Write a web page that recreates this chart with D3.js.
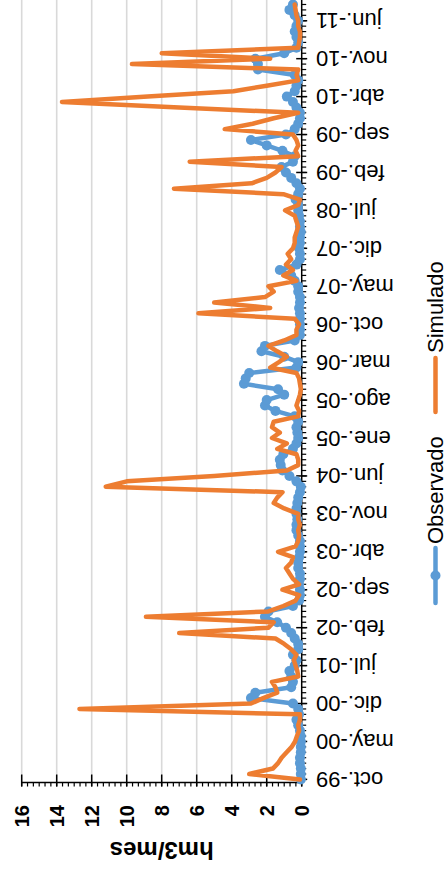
<!DOCTYPE html>
<html>
<head>
<meta charset="utf-8">
<script src="https://cdn.jsdelivr.net/npm/d3@7"></script>
<style>
  html, body { margin: 0; padding: 0; background: #fff; }
  svg { display: block; }
  text { font-family: "Liberation Sans", Arial, sans-serif; fill: #000; }
</style>
</head>
<body>
<div id="chart"></div>
<script>
// ---- data (monthly, oct-1999 .. sep-2011) ----
const months = d3.timeMonth.range(new Date(1999, 9, 1), new Date(2011, 9, 1));

const observado = [
  0.05, 0.05, 0.05, 0.1, 0.1, 0.05, 0.05, 0.05, 0.05, 0.1,
  0.2, 0.3, 0.15, 0.2, 0.5, 2.9, 2.65, 0.6, 0.5, 0.6,
  0.7, 0.4, 0.3, 0.5, 0.2, 0.2, 0.4, 0.6, 0.9, 1.4,
  2.1, 1.9, 0.5, 0.15, 0.1, 0.1, 0.15, 0.1, 0.1, 0.2,
  0.2, 0.15, 0.1, 0.1, 0.1, 0.2, 0.3, 0.3, 0.25, 0.3,
  0.3, 0.25, 0.2, 0.1, 0.05, 0.3, 0.7, 1.1, 1.2, 1.25,
  1.05, 0.5, 0.3, 0.2, 0.25, 0.3, 0.2, 0.4, 1.5, 2.1,
  2.0, 1.0, 1.35, 3.3, 3.2, 3.0, 0.3, 0.2, 1.0, 2.3,
  2.1, 0.4, 0.1, 0.1, 0.1, 0.1, 0.1, 0.15, 0.1, 0.1,
  0.2, 0.2, 0.4, 0.6, 1.25, 0.3, 0.1, 0.1, 0.15, 0.1,
  0.1, 0.05, 0.1, 0.1, 0.15, 0.2, 0.2, 0.35, 0.2, 0.1,
  0.3, 0.6, 0.9, 1.15, 0.5, 0.4, 1.1, 2.0, 2.9, 0.9,
  0.4, 0.2, 0.1, 0.1, 0.3, 0.5, 0.85, 0.4, 0.3, 0.2,
  0.4, 2.5, 2.5, 2.65, 1.0, 0.3, 0.2, 0.3, 0.4, 0.3,
  0.2, 0.4, 0.7, 0.5
];

const simulado = [
  0.1, 3.0, 1.65, 1.35, 1.15, 0.86, 0.57, 0.38, 0.27, 0.15,
  0.2, 0.1, 0.1, 12.7, 2.9, 2.2, 1.4, 1.5, 1.7, 0.2,
  0.25, 0.35, 0.45, 0.3, 0.6, 1.0, 1.5, 7.0, 1.9, 1.6,
  8.9, 1.9, 1.05, 0.35, 0.15, 1.1, 0.15, 0.5, 0.7, 0.9,
  0.6, 0.5, 1.35, 0.35, 0.2, 0.15, 0.2, 0.1, 0.2, 0.2,
  1.0, 1.6, 1.4, 1.1, 11.2, 10.0, 5.0, 0.85, 0.2, 0.2,
  0.3, 1.4, 0.85, 1.7, 1.25, 1.7, 1.6, 0.2, 0.15, 0.3,
  0.2, 0.1, 0.05, 0.1, 0.15, 0.3, 1.8, 1.3, 0.85, 1.4,
  1.9, 1.0, 0.3, 0.3, 0.15, 0.4, 5.9, 1.8, 5.0, 2.1,
  1.6, 1.9, 0.3, 1.05, 0.5, 0.9, 0.6, 0.8, 0.5, 0.4,
  0.4, 0.3, 0.2, 0.3, 0.4, 0.95, 0.2, 0.1, 1.05, 7.3,
  2.86, 2.0, 1.5, 1.15, 6.4, 0.2, 0.35, 0.2, 0.3, 0.5,
  4.4, 2.8, 1.6, 0.2, 7.0, 13.7, 8.8, 3.9, 2.0, 0.2,
  0.3, 0.2, 9.7, 1.8, 8.0, 0.2, 0.15, 0.1, 0.1, 0.2,
  0.2, 0.3, 0.35, 0.4
];

const tickLabels = ["oct.-99","may.-00","dic.-00","jul.-01","feb.-02","sep.-02","abr.-03",
  "nov.-03","jun.-04","ene.-05","ago.-05","mar.-06","oct.-06","may.-07","dic.-07","jul.-08",
  "feb.-09","sep.-09","abr.-10","nov.-10","jun.-11"];
const labelEvery = 7;
const valueTicks = [0, 2, 4, 6, 8, 10, 12, 14, 16];
const seriesNames = ["Observado", "Simulado"];
const colors = ["#5B9BD5", "#ED7D31"];

// ---- layout: chart drawn in its own (landscape) frame, then turned 90° counter-clockwise ----
const PW = 448, PH = 874;
const svg = d3.select("#chart").append("svg").attr("width", PW).attr("height", PH);
const g = svg.append("g").attr("transform", `translate(0,${PH}) rotate(-90)`);

const plotLeft = 91.5, plotRight = 880;
const x = d3.scaleLinear().domain([0, months.length - 1]).range([94.6, 94.6 + (months.length - 1) * 5.419]);
const y = d3.scaleLinear().domain([0, 16]).range([301.7, 21.7]);

// gridlines
g.append("g").selectAll("line").data(valueTicks.filter(v => v > 0)).join("line")
  .attr("x1", plotLeft).attr("x2", plotRight)
  .attr("y1", d => y(d)).attr("y2", d => y(d))
  .attr("stroke", "#d9d9d9").attr("stroke-width", 1.6);

// value axis (left in landscape frame)
const va = g.append("g");
va.append("line").attr("x1", plotLeft).attr("x2", plotLeft).attr("y1", y(16)).attr("y2", y(0))
  .attr("stroke", "#000").attr("stroke-width", 1.5);
const minorV = d3.range(0, 16.0001, 2 / 6);
va.selectAll("line.minor").data(minorV).join("line").attr("class", "minor")
  .attr("x1", plotLeft - 4).attr("x2", plotLeft).attr("y1", d => y(d)).attr("y2", d => y(d))
  .attr("stroke", "#000").attr("stroke-width", 1.2);
va.selectAll("line.major").data(valueTicks).join("line").attr("class", "major")
  .attr("x1", plotLeft - 4).attr("x2", plotLeft + 8).attr("y1", d => y(d)).attr("y2", d => y(d))
  .attr("stroke", "#000").attr("stroke-width", 1.5);
va.selectAll("text").data(valueTicks).join("text")
  .attr("x", 69).attr("y", d => y(d))
  .attr("text-anchor", "end").attr("dominant-baseline", "central")
  .attr("font-size", 20).attr("font-weight", "bold")
  .text(d => d);
g.append("text")
  .attr("transform", `translate(24,${(y(0) + y(16)) / 2}) rotate(-90)`)
  .attr("text-anchor", "middle").attr("dominant-baseline", "central")
  .attr("font-size", 24).attr("font-weight", "bold")
  .text("hm3/mes");

// category axis
const ca = g.append("g");
ca.append("line").attr("x1", plotLeft).attr("x2", plotRight).attr("y1", y(0)).attr("y2", y(0))
  .attr("stroke", "#000").attr("stroke-width", 1.5);
ca.selectAll("line.minor").data(months.map((d, i) => i)).join("line").attr("class", "minor")
  .attr("x1", d => x(d)).attr("x2", d => x(d)).attr("y1", y(0)).attr("y2", y(0) + 4.5)
  .attr("stroke", "#000").attr("stroke-width", 1.2);
ca.selectAll("line.major").data(tickLabels.map((d, k) => k * labelEvery)).join("line").attr("class", "major")
  .attr("x1", d => x(d)).attr("x2", d => x(d)).attr("y1", y(0) - 5.5).attr("y2", y(0) + 5.5)
  .attr("stroke", "#000").attr("stroke-width", 1.5);
ca.selectAll("text").data(tickLabels).join("text")
  .attr("transform", (d, k) => `translate(${x(k * labelEvery)},316) rotate(-90)`)
  .attr("text-anchor", "end").attr("dominant-baseline", "central")
  .attr("font-size", 22)
  .text(d => d);

// series
const line = d3.line().x((d, i) => x(i)).y(d => y(d));
g.append("path").datum(observado).attr("d", line)
  .attr("fill", "none").attr("stroke", colors[0]).attr("stroke-width", 4.5)
  .attr("stroke-linejoin", "round").attr("stroke-linecap", "round");
g.append("g").selectAll("circle").data(observado).join("circle")
  .attr("cx", (d, i) => x(i)).attr("cy", d => y(d)).attr("r", 5)
  .attr("fill", colors[0]);
g.append("path").datum(simulado).attr("d", line)
  .attr("fill", "none").attr("stroke", colors[1]).attr("stroke-width", 4.5)
  .attr("stroke-linejoin", "round").attr("stroke-linecap", "round");

// legend
const legY = 435.5;
const leg = g.append("g");
leg.append("line").attr("x1", 271).attr("x2", 326).attr("y1", legY).attr("y2", legY)
  .attr("stroke", colors[0]).attr("stroke-width", 4.5).attr("stroke-linecap", "round");
leg.append("circle").attr("cx", 298.5).attr("cy", legY).attr("r", 5).attr("fill", colors[0]);
leg.append("text").attr("x", 330).attr("y", legY).attr("dominant-baseline", "central")
  .attr("font-size", 22).text(seriesNames[0]);
leg.append("line").attr("x1", 462).attr("x2", 516).attr("y1", legY).attr("y2", legY)
  .attr("stroke", colors[1]).attr("stroke-width", 4.5).attr("stroke-linecap", "round");
leg.append("text").attr("x", 521).attr("y", legY).attr("dominant-baseline", "central")
  .attr("font-size", 22).text(seriesNames[1]);
</script>
</body>
</html>
